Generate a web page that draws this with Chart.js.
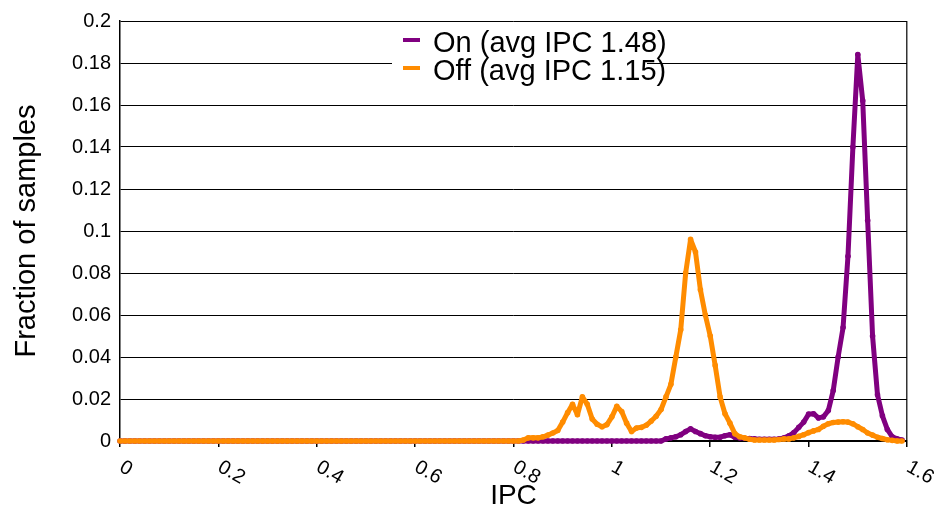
<!DOCTYPE html>
<html>
<head>
<meta charset="utf-8">
<title>IPC</title>
<script src="https://cdn.jsdelivr.net/npm/chart.js@4.4.0/dist/chart.umd.min.js"></script>
<style>
	body { margin: 0; background: #fff; }
	#contenedor { position: relative; width: 942px; height: 513px; }
	#leyenda { position: absolute; left: 392px; top: 27px; width: 255px; height: 62px; background: #fff;
		font-family: "Liberation Sans", Arial, sans-serif; font-size: 29px; color: #000; }
	#leyenda .marca { position: absolute; left: 11px; width: 17px; height: 4px; }
	#leyenda .texto { position: absolute; left: 41px; height: 28px; line-height: 28px; white-space: nowrap; }
</style>
</head>
<body>
<div id="contenedor">
	<canvas id="grafica-ipc" width="942" height="513"></canvas>
	<div id="leyenda">
		<div class="marca" style="top:11px; background:#800080"></div>
		<div class="texto" style="top:1px">On (avg IPC 1.48)</div>
		<div class="marca" style="top:39px; background:#ff8c00"></div>
		<div class="texto" style="top:29px">Off (avg IPC 1.15)</div>
	</div>
</div>
<script>
var ipc = [
	0.00, 0.01, 0.02, 0.03, 0.04, 0.05, 0.06, 0.07, 0.08, 0.09,
	0.10, 0.11, 0.12, 0.13, 0.14, 0.15, 0.16, 0.17, 0.18, 0.19,
	0.20, 0.21, 0.22, 0.23, 0.24, 0.25, 0.26, 0.27, 0.28, 0.29,
	0.30, 0.31, 0.32, 0.33, 0.34, 0.35, 0.36, 0.37, 0.38, 0.39,
	0.40, 0.41, 0.42, 0.43, 0.44, 0.45, 0.46, 0.47, 0.48, 0.49,
	0.50, 0.51, 0.52, 0.53, 0.54, 0.55, 0.56, 0.57, 0.58, 0.59,
	0.60, 0.61, 0.62, 0.63, 0.64, 0.65, 0.66, 0.67, 0.68, 0.69,
	0.70, 0.71, 0.72, 0.73, 0.74, 0.75, 0.76, 0.77, 0.78, 0.79,
	0.80, 0.81, 0.82, 0.83, 0.84, 0.85, 0.86, 0.87, 0.88, 0.89,
	0.90, 0.91, 0.92, 0.93, 0.94, 0.95, 0.96, 0.97, 0.98, 0.99,
	1.00, 1.01, 1.02, 1.03, 1.04, 1.05, 1.06, 1.07, 1.08, 1.09,
	1.10, 1.11, 1.12, 1.13, 1.14, 1.15, 1.16, 1.17, 1.18, 1.19,
	1.20, 1.21, 1.22, 1.23, 1.24, 1.25, 1.26, 1.27, 1.28, 1.29,
	1.30, 1.31, 1.32, 1.33, 1.34, 1.35, 1.36, 1.37, 1.38, 1.39,
	1.40, 1.41, 1.42, 1.43, 1.44, 1.45, 1.46, 1.47, 1.48, 1.49,
	1.50, 1.51, 1.52, 1.53, 1.54, 1.55, 1.56, 1.57, 1.58, 1.59
];

// fraccion de muestras con la opcion activada
var muestras_on = [
	0, 0, 0, 0, 0, 0, 0, 0, 0, 0,
	0, 0, 0, 0, 0, 0, 0, 0, 0, 0,
	0, 0, 0, 0, 0, 0, 0, 0, 0, 0,
	0, 0, 0, 0, 0, 0, 0, 0, 0, 0,
	0, 0, 0, 0, 0, 0, 0, 0, 0, 0,
	0, 0, 0, 0, 0, 0, 0, 0, 0, 0,
	0, 0, 0, 0, 0, 0, 0, 0, 0, 0,
	0, 0, 0, 0, 0, 0, 0, 0, 0, 0,
	0, 0, 0, 0, 0, 0, 0, 0, 0, 0,
	0, 0, 0, 0, 0, 0, 0, 0, 0, 0,
	0, 0, 0, 0, 0, 0, 0, 0, 0, 0,
	0, 0.001, 0.0015, 0.002, 0.003, 0.0045, 0.0058, 0.0045, 0.0035, 0.0025,
	0.002, 0.0018, 0.0018, 0.0025, 0.003, 0.0018, 0.0015, 0.0013, 0.0012, 0.001,
	0.0008, 0.0008, 0.0008, 0.0008, 0.001, 0.0015, 0.0025, 0.004, 0.0065, 0.009,
	0.0128, 0.013, 0.011, 0.0115, 0.0145, 0.024, 0.04, 0.054, 0.088, 0.14,
	0.184, 0.162, 0.105, 0.05, 0.022, 0.012, 0.0055, 0.002, 0.001, 0.0005
];

// fraccion de muestras con la opcion desactivada
var muestras_off = [
	0, 0, 0, 0, 0, 0, 0, 0, 0, 0,
	0, 0, 0, 0, 0, 0, 0, 0, 0, 0,
	0, 0, 0, 0, 0, 0, 0, 0, 0, 0,
	0, 0, 0, 0, 0, 0, 0, 0, 0, 0,
	0, 0, 0, 0, 0, 0, 0, 0, 0, 0,
	0, 0, 0, 0, 0, 0, 0, 0, 0, 0,
	0, 0, 0, 0, 0, 0, 0, 0, 0, 0,
	0, 0, 0, 0, 0, 0, 0, 0, 0, 0,
	0, 0, 0.0005, 0.0015, 0.0015, 0.0015, 0.002, 0.0028, 0.0038, 0.005,
	0.009, 0.0135, 0.0175, 0.0125, 0.021, 0.0175, 0.0105, 0.008, 0.0068, 0.0078,
	0.0115, 0.0165, 0.014, 0.0085, 0.0045, 0.0062, 0.0065, 0.0075, 0.0095, 0.0118,
	0.015, 0.021, 0.027, 0.04, 0.053, 0.08, 0.096, 0.09, 0.072, 0.06,
	0.05, 0.036, 0.021, 0.013, 0.0085, 0.0035, 0.002, 0.0015, 0.0008, 0.0005,
	0.0005, 0.0005, 0.0005, 0.0005, 0.0007, 0.001, 0.001, 0.0015, 0.0022, 0.003,
	0.004, 0.0048, 0.0055, 0.007, 0.0082, 0.0088, 0.009, 0.0092, 0.009, 0.0082,
	0.0068, 0.0055, 0.0038, 0.0028, 0.0018, 0.0012, 0.0006, 0.0003, 0, 0
];

var etiquetas_x = ['0', '0.2', '0.4', '0.6', '0.8', '1', '1.2', '1.4', '1.6'];
var etiquetas_y = ['0', '0.02', '0.04', '0.06', '0.08', '0.1', '0.12', '0.14', '0.16', '0.18', '0.2'];

var fuente = '"Liberation Sans", Arial, sans-serif';

function puntos(valores)
{
	return ipc.map(function (x, i) { return { x: x, y: valores[i] }; });
}

// etiquetas del eje X giradas hacia abajo
var etiquetasGiradas = {
	id: 'etiquetasGiradas',
	afterDraw: function (chart)
	{
		var escala = chart.scales.x;
		var ctx = chart.ctx;
		ctx.save();
		ctx.font = '20px ' + fuente;
		ctx.fillStyle = '#000';
		ctx.textAlign = 'left';
		ctx.textBaseline = 'top';
		for (var i = 0; i < escala.ticks.length; i++)
		{
			var px = escala.getPixelForValue(escala.ticks[i].value);
			ctx.save();
			ctx.translate(px + 6, escala.top + 16);
			ctx.rotate(Math.PI / 6);
			ctx.fillText(etiquetas_x[i], 0, 0);
			ctx.restore();
		}
		ctx.restore();
	}
};

var ctx = document.getElementById('grafica-ipc').getContext('2d');

new Chart(ctx, {
	type: 'line',
	data: {
		datasets: [{
			label: 'On (avg IPC 1.48)',
			data: puntos(muestras_on),
			borderColor: '#800080',
			backgroundColor: '#800080',
			borderWidth: 5,
			pointRadius: 2.8,
			pointBorderWidth: 0,
			tension: 0,
			clip: false,
			order: 2
		}, {
			label: 'Off (avg IPC 1.15)',
			data: puntos(muestras_off),
			borderColor: '#ff8c00',
			backgroundColor: '#ff8c00',
			borderWidth: 5,
			pointRadius: 2.8,
			pointBorderWidth: 0,
			tension: 0,
			clip: false,
			order: 1
		}]
	},
	options: {
		responsive: false,
		animation: false,
		borderJoinStyle: 'round',
		layout: { padding: { left: 0, top: 21, right: 35, bottom: 0 } },
		plugins: {
			legend: { display: false },
			tooltip: { enabled: false }
		},
		scales: {
			x: {
				type: 'linear',
				min: 0,
				max: 1.6,
				afterFit: function (escala) { escala.height = 72; },
				ticks: { stepSize: 0.2, display: false },
				grid: {
					color: function (c) { return c.tick && c.tick.value > 1.59 ? '#333' : 'rgba(0,0,0,0)'; },
					lineWidth: 1.5,
					tickColor: '#000',
					tickLength: 6
				},
				border: { color: '#000', width: 2 },
				title: {
					display: true,
					text: 'IPC',
					color: '#000',
					font: { family: fuente, size: 28 },
					padding: { top: 0, bottom: 0 }
				}
			},
			y: {
				min: 0,
				max: 0.2,
				afterFit: function (escala) { escala.width = 120; },
				ticks: {
					stepSize: 0.02,
					color: '#000',
					padding: 9,
					font: { family: fuente, size: 20 },
					callback: function (valor, indice) { return etiquetas_y[indice]; }
				},
				grid: { color: '#000', lineWidth: 1, drawTicks: false },
				border: { color: '#000', width: 1.5 },
				title: {
					display: true,
					text: 'Fraction of samples',
					color: '#000',
					font: { family: fuente, size: 29 },
					padding: { top: 10, bottom: 0 }
				}
			}
		}
	},
	plugins: [etiquetasGiradas]
});
</script>
</body>
</html>
